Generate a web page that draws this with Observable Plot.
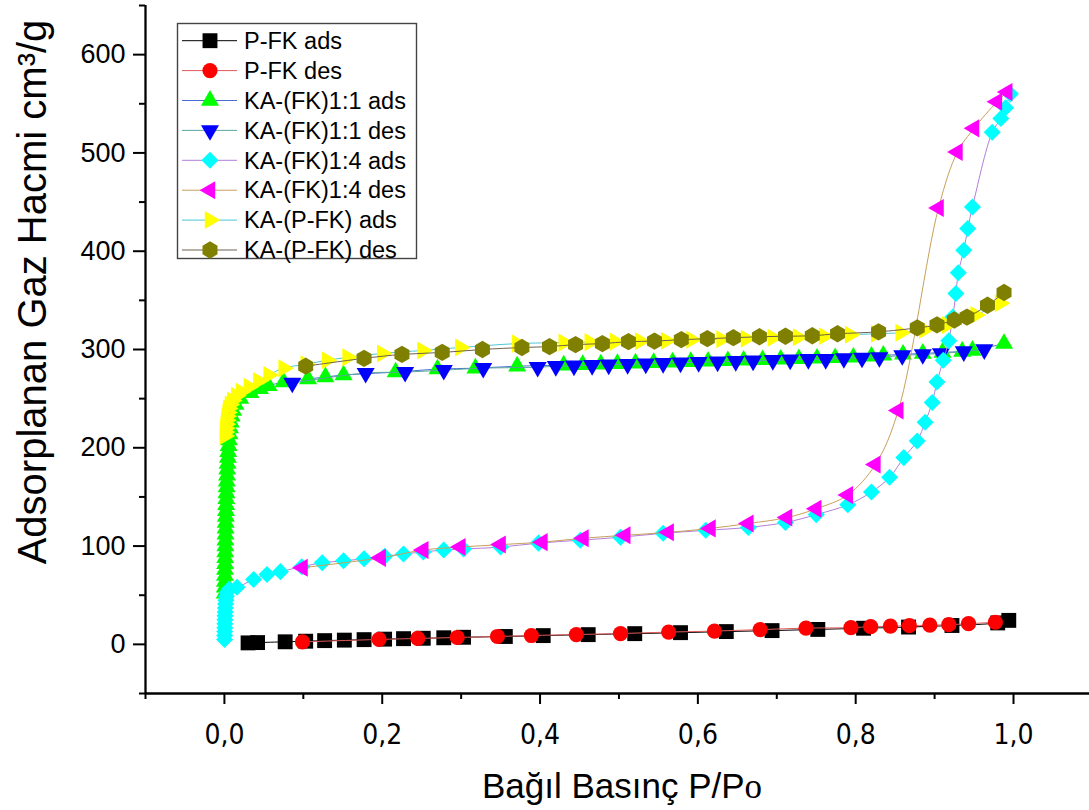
<!DOCTYPE html>
<html>
<head>
<meta charset="utf-8">
<script src="https://cdn.jsdelivr.net/npm/d3@7"></script>
<script src="https://cdn.jsdelivr.net/npm/@observablehq/plot@0.6"></script>
<style>
  body { margin: 0; background: #ffffff; }
  #chart { width: 1089px; height: 810px; }
</style>
</head>
<body>
<div id="chart"></div>
<script>
// Nitrogen isotherms: [relative pressure P/Po, adsorbed volume cm³/g]
const pfkAds = [[0.030,1.5],[0.042,1.8],[0.077,2.6],[0.103,3.2],[0.127,3.8],[0.152,4.3],[0.177,4.8],[0.203,5.3],[0.227,5.8],[0.252,6.2],[0.278,6.7],[0.303,7.2],[0.356,8.0],[0.404,8.9],[0.461,9.9],[0.520,10.9],[0.578,11.9],[0.636,13.0],[0.694,14.0],[0.752,15.2],[0.810,16.4],[0.867,17.6],[0.922,19.2],[0.980,21.8],[0.994,24.4]];

const pfkDes = [[0.977,22.5],[0.943,21],[0.918,20],[0.894,19.5],[0.868,19],[0.844,18.5],[0.819,18],[0.794,17],[0.737,16.5],[0.679,15],[0.621,13.5],[0.563,12.5],[0.502,11],[0.446,10],[0.389,9],[0.346,8],[0.295,7],[0.245,6],[0.196,5],[0.099,2.5]];

const ka11Ads = [[0.0004,52],[0.0005,58],[0.0006,64],[0.0007,70],[0.0008,76],[0.0009,82],[0.0010,88],[0.0011,94],[0.0012,100],[0.0013,106],[0.0014,112],[0.0015,118],[0.0016,124],[0.0018,130],[0.0020,136],[0.0022,142],[0.0024,148],[0.0026,154],[0.0028,160],[0.0030,166],[0.0033,172],[0.0036,178],[0.0040,184],[0.0044,190],[0.0048,196],[0.0053,202],[0.0058,208],[0.0064,214],[0.0071,220],[0.0080,226],[0.0092,232],[0.011,238],[0.014,244],[0.020,250],[0.033,256],[0.045,260],[0.056,263],[0.075,267],[0.106,270],[0.128,272],[0.151,274],[0.217,277],[0.270,280],[0.318,281],[0.371,283],[0.430,284],[0.454,284.5],[0.477,285],[0.498,285.5],[0.521,286],[0.544,286.5],[0.568,287],[0.591,287.5],[0.613,288],[0.638,288.5],[0.658,289],[0.682,289.5],[0.705,290],[0.728,290.5],[0.751,291],[0.774,291.5],[0.797,292],[0.820,293],[0.835,294],[0.860,295],[0.885,296],[0.910,297],[0.935,298],[0.948,299],[0.988,306]];

const ka11Des = [[0.963,300],[0.937,298],[0.908,296],[0.885,295],[0.859,294],[0.830,292],[0.808,291.5],[0.785,291],[0.762,290],[0.740,290],[0.717,289.5],[0.695,289],[0.670,288.5],[0.648,288],[0.625,287.5],[0.601,287],[0.578,286.5],[0.556,286],[0.534,285.5],[0.511,285],[0.487,284.5],[0.466,284],[0.443,283.5],[0.420,283],[0.397,282],[0.328,281],[0.278,279],[0.229,277],[0.179,276],[0.086,266]];

const ka14Ads = [[0.0002,5],[0.0003,9],[0.0004,13],[0.0005,17],[0.0006,21],[0.0007,25],[0.0008,29],[0.0010,33],[0.0012,37],[0.0015,41],[0.0019,45],[0.0025,49],[0.0035,53],[0.006,56],[0.016,58],[0.037,66],[0.054,71],[0.071,74],[0.098,79],[0.124,83],[0.151,85],[0.177,87],[0.203,89.5],[0.227,92],[0.252,94],[0.278,96],[0.303,97],[0.350,99],[0.398,103],[0.451,106],[0.502,109],[0.556,113],[0.610,116],[0.664,119],[0.711,124],[0.750,132],[0.790,142],[0.820,155],[0.843,170],[0.861,190],[0.878,207],[0.888,226],[0.897,246],[0.903,267],[0.911,289],[0.918,309],[0.923,333],[0.927,357],[0.930,378],[0.937,401],[0.942,423],[0.948,445],[0.973,521],[0.984,535],[0.990,546],[0.996,560]];

const ka14Des = [[0.992,562],[0.979,552],[0.950,525],[0.929,501],[0.905,444],[0.854,238],[0.825,183],[0.790,152],[0.750,138],[0.713,129],[0.664,123],[0.616,118],[0.563,114],[0.508,111],[0.455,108],[0.403,104],[0.350,101.5],[0.299,99],[0.252,96],[0.198,88],[0.099,78]];

const kaPfkAds = [[0.0005,212],[0.0008,216],[0.0012,220],[0.0017,224],[0.0023,228],[0.003,232],[0.004,236],[0.005,240],[0.007,244],[0.010,248],[0.015,253],[0.021,257],[0.031,262],[0.043,268],[0.056,274],[0.075,281],[0.103,285],[0.130,289],[0.156,292],[0.200,296],[0.251,299],[0.299,302],[0.371,306],[0.430,307],[0.463,307.5],[0.495,308],[0.527,308.5],[0.560,309],[0.592,310],[0.630,310.5],[0.661,311],[0.695,312],[0.727,312.5],[0.760,313.5],[0.793,315],[0.826,316],[0.857,317],[0.887,320],[0.916,325],[0.952,335],[0.983,347]];

const kaPfkDes = [[0.988,358],[0.967,345],[0.941,333],[0.925,330],[0.903,325],[0.878,322],[0.829,318],[0.777,316],[0.745,314],[0.711,313.5],[0.678,313],[0.645,312],[0.612,311],[0.579,310],[0.545,308.5],[0.512,308],[0.479,306],[0.445,305],[0.412,303],[0.377,302],[0.327,300],[0.276,297],[0.225,295],[0.177,291],[0.103,283]];

// Axis ticks
const xMajor = [0, 0.2, 0.4, 0.6, 0.8, 1.0];
const xMinor = [-0.1, 0.1, 0.3, 0.5, 0.7, 0.9];
const yMajor = [0, 100, 200, 300, 400, 500, 600];
const yMinor = [-50, 50, 150, 250, 350, 450, 550, 650];

// Series appearance (drawn in this order, later ones on top)
const series = [
  {name: "P-FK ads",        data: pfkAds,   fill: "#000000", line: "#000000", symbol: "square",   r: 8.4, rotate: 0},
  {name: "P-FK des",        data: pfkDes,   fill: "#ff0000", line: "#e05a5a", symbol: "circle",   r: 7.6, rotate: 0},
  {name: "KA-(FK)1:1 ads",  data: ka11Ads,  fill: "#00ff00", line: "#4a6fd0", symbol: "triangle", r: 6.7, rotate: 0},
  {name: "KA-(FK)1:1 des",  data: ka11Des,  fill: "#0000ff", line: "#5aa6a0", symbol: "triangle", r: 6.7, rotate: 180},
  {name: "KA-(FK)1:4 ads",  data: ka14Ads,  fill: "#00ffff", line: "#b27fd8", symbol: "square",   r: 6.8, rotate: 45},
  {name: "KA-(FK)1:4 des",  data: ka14Des,  fill: "#ff00ff", line: "#c8a05a", symbol: "triangle", r: 6.7, rotate: -90},
  {name: "KA-(P-FK) ads",   data: kaPfkAds, fill: "#ffff00", line: "#4ec6d6", symbol: "triangle", r: 6.7, rotate: 90},
  {name: "KA-(P-FK) des",   data: kaPfkDes, fill: "#808000", line: "#6d6050", symbol: "hexagon",  r: 7.5, rotate: 0}
];

const sansFont = "'Liberation Sans', Arial, sans-serif";
const narrowFont = "'Liberation Sans Narrow', 'Arial Narrow', 'DejaVu Sans Condensed', sans-serif";
const commaFmt = d => d.toFixed(1).replace(".", ",");
const P = d => d[0], V = d => d[1];

const svg = Plot.plot({
  width: 1089,
  height: 810,
  marginLeft: 145,
  marginRight: 0,
  marginTop: 5,
  marginBottom: 117,
  style: {background: "#ffffff", overflow: "visible"},
  x: {domain: [-0.1, 1.0963], label: null},
  y: {domain: [-50, 650], label: null},
  marks: [
    ...series.flatMap(s => [
      Plot.line(s.data, {x: P, y: V, stroke: s.line, strokeWidth: 1, curve: "catmull-rom"}),
      Plot.dot(s.data, {x: P, y: V, symbol: s.symbol, r: s.r, rotate: s.rotate, fill: s.fill, stroke: "none"})
    ]),
    Plot.ruleX([-0.1], {stroke: "#000", strokeWidth: 2.3}),
    Plot.ruleY([-50], {stroke: "#000", strokeWidth: 2.3}),
    Plot.axisX(xMajor, {tickSize: 11, tickPadding: 20, tickFormat: commaFmt, fontSize: 28, fontFamily: narrowFont, strokeWidth: 2, label: null}),
    Plot.axisX(xMinor, {tickSize: 6, tickFormat: () => "", strokeWidth: 2, label: null}),
    Plot.axisY(yMajor, {tickSize: 12, tickPadding: 8, fontSize: 27, fontFamily: sansFont, strokeWidth: 2, label: null}),
    Plot.axisY(yMinor, {tickSize: 6, tickFormat: () => "", strokeWidth: 2, label: null})
  ]
});

const root = d3.select(svg);

// Axis titles
root.append("text")
  .attr("transform", "translate(46,292) rotate(-90)")
  .attr("text-anchor", "middle")
  .attr("font-family", sansFont)
  .attr("font-size", 40)
  .attr("fill", "#000")
  .text("Adsorplanan Gaz Hacmi cm³/g");

const xTitle = root.append("text")
  .attr("x", 622).attr("y", 798)
  .attr("text-anchor", "middle")
  .attr("font-family", sansFont)
  .attr("font-size", 35)
  .attr("fill", "#000");
xTitle.append("tspan").text("Bağıl Basınç P/P");
xTitle.append("tspan").attr("font-family", "'Liberation Serif', 'DejaVu Serif', serif").text("o");

// Legend box
const hexagon = {
  draw(context, size) {
    const rx = Math.sqrt(size / Math.PI), ry = rx * 2 / Math.sqrt(3), hy = ry / 2;
    context.moveTo(0, ry); context.lineTo(rx, hy); context.lineTo(rx, -hy);
    context.lineTo(0, -ry); context.lineTo(-rx, -hy); context.lineTo(-rx, hy); context.closePath();
  }
};
const symbolTypes = {square: d3.symbolSquare, circle: d3.symbolCircle, triangle: d3.symbolTriangle, hexagon};

const legend = root.append("g")
  .attr("font-family", sansFont)
  .attr("font-size", 23.5)
  .attr("text-anchor", "start");
legend.append("rect")
  .attr("x", 177.5).attr("y", 23.5).attr("width", 239).attr("height", 235)
  .attr("fill", "#ffffff").attr("stroke", "#444").attr("stroke-width", 1.4);
series.forEach((s, i) => {
  const cy = 40.7 + i * 29.9;
  legend.append("line").attr("x1", 182).attr("x2", 237).attr("y1", cy).attr("y2", cy)
    .attr("stroke", s.line).attr("stroke-width", 1);
  legend.append("path")
    .attr("d", d3.symbol(symbolTypes[s.symbol], Math.PI * s.r * s.r)())
    .attr("transform", `translate(210,${cy}) rotate(${s.rotate})`)
    .attr("fill", s.fill);
  legend.append("text").attr("x", 244).attr("y", cy).attr("dy", "0.35em")
    .attr("text-anchor", "start")
    .attr("fill", "#000").text(s.name);
});

document.getElementById("chart").appendChild(svg);
</script>
</body>
</html>
